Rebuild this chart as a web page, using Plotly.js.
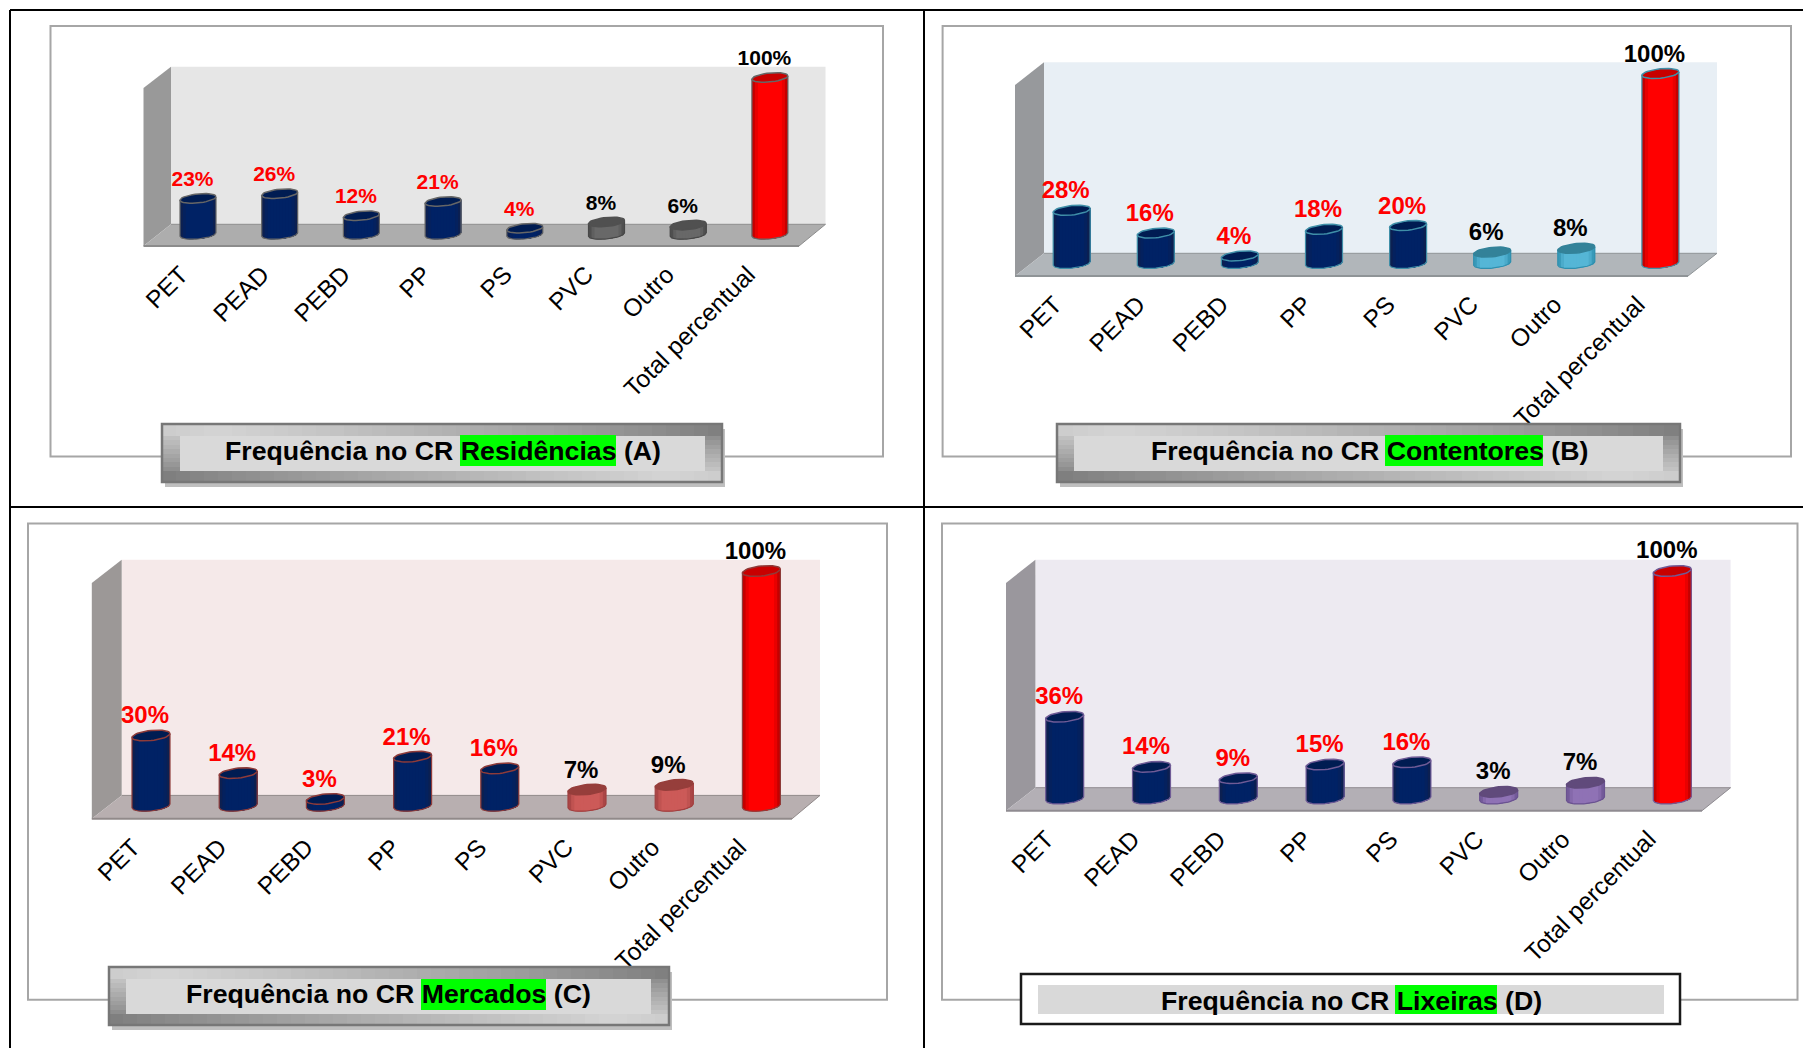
<!DOCTYPE html>
<html lang="pt">
<head>
<meta charset="utf-8">
<title>Frequência de polímeros nos centros de recolha</title>
<script src="https://cdn.plot.ly/plotly-3.0.1.min.js"></script>
<style>html,body{margin:0;padding:0;background:#fff}#grafico{width:1803px;height:1048px}</style>
</head>
<body>
<div id="grafico"></div>
<script>
// Percentual de cada polímero por tipo de centro de recolha
const categorias = ['PET', 'PEAD', 'PEBD', 'PP', 'PS', 'PVC', 'Outro', 'Total percentual'];
const residencias = [23, 26, 12, 21, 4, 8, 6, 100];
const contentores = [28, 16, 4, 18, 20, 6, 8, 100];
const mercados = [30, 14, 3, 21, 16, 7, 9, 100];
const lixeiras = [36, 14, 9, 15, 16, 3, 7, 100];

const LARG = 1803, ALT = 1048;
const FONTE = '"Liberation Sans", Arial, sans-serif';
const px = x => x / LARG;
const py = y => 1 - y / ALT;

// Geometria e paleta de cada painel, em pixels da página
const paineis = [
  { valores: residencias, nome: 'Residências', letra: '(A)', moldura: [50.5, 26, 883, 456.5],
    fundo: [171, 825.5, 66.7, 224.3], frente: [143.5, 799, 246], paredeTopo: 88,
    cx0: 198, passo: 81.7, larg: 36, base: 234.5, escala: 1.57, semi: 4.5, incl: 1.7,
    rotulo: 21, dxRot: -5.5, dyRot: 17.5, tick: 24.5, folga: 3.5, dxTick: -17, passoTick: 81,
    cores: { parede: '#999999', chao: '#adadad', borda: '#8c8c8c', fundo: '#e6e6e6', aro: '#666666',
      acentoBorda: '#474747', acentoCentro: '#686868', acentoTopo: '#505050' },
    legenda: { tipo: 'chanfro', ext: [162, 424, 722, 482], int: [180, 436, 705, 471], verde: [460, 435, 616, 466], cx: 442.5, cy: 451 } },
  { valores: contentores, nome: 'Contentores', letra: '(B)', moldura: [942.6, 26, 1791, 456.5],
    fundo: [1044, 1717, 62.3, 253.3], frente: [1015, 1688, 276], paredeTopo: 85,
    cx0: 1071.7, passo: 84.1, larg: 37, base: 263.5, escala: 1.9, semi: 4.7, incl: 1.8,
    rotulo: 24, dxRot: -6, dyRot: 18, tick: 24.5, folga: 3.5, dxTick: -17, passoTick: 83.3,
    cores: { parede: '#97999c', chao: '#b1b6ba', borda: '#8f9497', fundo: '#e8eff5', aro: '#3f8fa8',
      acentoBorda: '#2f8fae', acentoCentro: '#55b6d6', acentoTopo: '#338299' },
    legenda: { tipo: 'chanfro', ext: [1057, 424, 1680, 482], int: [1074, 436, 1663, 471], verde: [1385, 435, 1543, 466], cx: 1369, cy: 451 } },
  { valores: mercados, nome: 'Mercados', letra: '(C)', moldura: [28, 523.4, 887, 999.8],
    fundo: [121.7, 820, 559.8, 795.4], frente: [91.8, 792, 818.8], paredeTopo: 583,
    cx0: 151, passo: 87.2, larg: 38, base: 806, escala: 2.35, semi: 5, incl: 1.9,
    rotulo: 24, dxRot: -6, dyRot: 18, tick: 24.5, folga: 3.5, dxTick: -18, passoTick: 86.6,
    cores: { parede: '#9c9897', chao: '#b8afb0', borda: '#918a8a', fundo: '#f5e9e9', aro: '#8e3b39',
      acentoBorda: '#a04040', acentoCentro: '#cc5a58', acentoTopo: '#963e3b' },
    legenda: { tipo: 'chanfro', ext: [109, 967, 669, 1025], int: [126, 979, 651, 1014], verde: [421, 979, 546, 1010], cx: 388.7, cy: 994 } },
  { valores: lixeiras, nome: 'Lixeiras', letra: '(D)', moldura: [942, 523.4, 1797.5, 999.8],
    fundo: [1035.4, 1730.6, 559.8, 787.7], frente: [1006, 1702, 810.7], paredeTopo: 583,
    cx0: 1064.7, passo: 86.8, larg: 38, base: 798.7, escala: 2.277, semi: 5, incl: 1.9,
    rotulo: 24, dxRot: -5.5, dyRot: 18.5, tick: 24.5, folga: 3.5, dxTick: -18, passoTick: 86,
    cores: { parede: '#9a979d', chao: '#b3afb5', borda: '#8f8b91', fundo: '#edeaf1', aro: '#6f5b96',
      acentoBorda: '#6a5290', acentoCentro: '#8f72b5', acentoTopo: '#604a7b' },
    legenda: { tipo: 'simples', ext: [1021, 974, 1680, 1024], int: [1038, 985, 1664, 1014], verde: [1395, 985, 1497, 1014], cx: 1351, cy: 1001 } }
];

const hexRgb = h => [1, 3, 5].map(i => parseInt(h.slice(i, i + 2), 16));
const mistura = (a, b, t) => {
  const A = hexRgb(a), B = hexRgb(b);
  return 'rgb(' + A.map((v, i) => Math.round(v + (B[i] - v) * t)).join(',') + ')';
};

const caminho = pts => 'M' + pts.map(p => px(p[0]) + ' ' + py(p[1])).join('L') + 'Z';
const retangulo = (r, fill, camada, linha) => ({
  type: 'rect', xref: 'paper', yref: 'paper', layer: camada || 'below',
  x0: px(r[0]), x1: px(r[2]), y0: py(r[1]), y1: py(r[3]),
  fillcolor: fill, line: linha || { width: 0 }
});
const poligono = (pts, fill) => ({
  type: 'path', xref: 'paper', yref: 'paper', layer: 'below', path: caminho(pts),
  fillcolor: fill, line: { width: 0 }
});
const segmento = (x0, y0, x1, y1, cor, w) => ({
  type: 'line', xref: 'paper', yref: 'paper', layer: 'below',
  x0: px(x0), x1: px(x1), y0: py(y0), y1: py(y1), line: { color: cor, width: w }
});

const tracos = [];
const formas = [];
const notas = [];
const layout = {
  width: LARG, height: ALT, margin: { l: 0, r: 0, t: 0, b: 0 }, showlegend: false,
  paper_bgcolor: '#ffffff', plot_bgcolor: 'rgba(0,0,0,0)', hovermode: false,
  font: { family: FONTE, color: '#000000' }
};

// Retícula preta que separa os quatro painéis
formas.push(segmento(10, 10, LARG, 10, '#000000', 2));
formas.push(segmento(10, 10, 10, ALT, '#000000', 2));
formas.push(segmento(924, 10, 924, ALT, '#000000', 2));
formas.push(segmento(10, 507, LARG, 507, '#000000', 2));

// Moldura chanfrada: tom varia na diagonal, escuro nos cantos opostos e claro no meio
function tomChanfro(u) {
  const t = 1 - Math.abs(u - 0.5) * 2;
  return mistura('#6e6e6e', '#d4d4d4', Math.pow(t, 0.8));
}
function desenhaLegenda(leg) {
  const [x0, y0, x1, y1] = leg.ext;
  const [i0, j0, i1, j1] = leg.int;
  if (leg.tipo === 'chanfro') {
    formas.push(retangulo([x0 + 3, y0 + 5, x1 + 3, y1 + 5], '#bfbfbf', 'above'));
    const w = x1 - x0, h = y1 - y0;
    const u = (x, y) => (((x - x0) / w) + 1 - (y - y0) / h) / 2;
    const nx = 40;
    for (let k = 0; k < nx; k++) {
      const a = Math.round(x0 + w * k / nx), b = Math.round(x0 + w * (k + 1) / nx);
      formas.push(retangulo([a, y0, b, j0], tomChanfro(u((a + b) / 2, (y0 + j0) / 2)), 'above'));
      formas.push(retangulo([a, j1, b, y1], tomChanfro(u((a + b) / 2, (j1 + y1) / 2)), 'above'));
    }
    const ny = 8;
    for (let k = 0; k < ny; k++) {
      const a = Math.round(j0 + (j1 - j0) * k / ny), b = Math.round(j0 + (j1 - j0) * (k + 1) / ny);
      formas.push(retangulo([x0, a, i0, b], tomChanfro(u((x0 + i0) / 2, (a + b) / 2)), 'above'));
      formas.push(retangulo([i1, a, x1, b], tomChanfro(u((i1 + x1) / 2, (a + b) / 2)), 'above'));
    }
    formas.push(retangulo(leg.ext, 'rgba(0,0,0,0)', 'above', { color: '#777777', width: 2.5 }));
  } else {
    formas.push(retangulo(leg.ext, '#ffffff', 'above', { color: '#1a1a1a', width: 2.5 }));
  }
  formas.push(retangulo(leg.int, '#d9d9d9', 'above'));
  formas.push(retangulo(leg.verde, '#00ff00', 'above'));
}

const N_FAIXAS = 12;

paineis.forEach((p, idx) => {
  const n = idx === 0 ? '' : String(idx + 1);
  const eixoX = 'x' + n, eixoY = 'y' + n;
  const c = p.cores;

  // Moldura branca e cenário em perspectiva
  formas.push(retangulo(p.moldura, '#ffffff', 'below', { color: '#a6a6a6', width: 2 }));
  formas.push(retangulo([p.fundo[0], p.fundo[2], p.fundo[1], p.fundo[3]], c.fundo));
  formas.push(poligono([[p.frente[0], p.paredeTopo], [p.fundo[0], p.fundo[2]], [p.fundo[0], p.fundo[3]], [p.frente[0], p.frente[2]]], c.parede));
  formas.push(poligono([[p.fundo[0], p.fundo[3]], [p.fundo[1], p.fundo[3]], [p.frente[1], p.frente[2]], [p.frente[0], p.frente[2]]], c.chao));
  formas.push(segmento(p.fundo[0], p.fundo[3], p.fundo[1], p.fundo[3], c.borda, 1));
  formas.push(segmento(p.frente[0], p.frente[2], p.frente[1], p.frente[2], c.borda, 2));
  formas.push(segmento(p.frente[1], p.frente[2], p.fundo[1], p.fundo[3], c.borda, 1));

  // Eixos: a escala converte índice de categoria e percentual em posição na página
  const esq = p.frente[0], dir = p.fundo[1];
  const topo = p.moldura[1] + 2;
  layout['xaxis' + n] = {
    domain: [px(esq), px(dir)], anchor: eixoY, type: 'linear',
    range: [(esq - p.cx0) / p.passo, (dir - p.cx0) / p.passo],
    showgrid: false, zeroline: false, showline: false, fixedrange: true,
    tickmode: 'array', tickvals: categorias.map((_, i) => (i * p.passoTick + p.dxTick) / p.passo), ticktext: categorias,
    tickangle: -45, ticks: 'outside', ticklen: p.folga, tickcolor: 'rgba(0,0,0,0)',
    tickfont: { family: FONTE, size: p.tick, color: '#000000' }
  };
  layout['yaxis' + n] = {
    domain: [py(p.frente[2]), py(topo)], anchor: eixoX, type: 'linear',
    range: [-(p.frente[2] - p.base) / p.escala, (p.base - topo) / p.escala],
    visible: false, showgrid: false, zeroline: false, fixedrange: true
  };

  // Unidades de dados equivalentes às medidas do cilindro
  const a = (p.larg / 2) / p.passo;
  const b = p.semi / p.escala;
  const s = p.incl / p.escala;
  const ux = categorias.map((_, i) => i);
  const rampa = i => {
    if (i === categorias.length - 1) return { borda: '#b00000', centro: '#ff0000', topo: '#c80000' };
    if (i >= 5) return { borda: c.acentoBorda, centro: c.acentoCentro, topo: c.acentoTopo };
    return { borda: '#10204a', centro: '#002265', topo: '#001c52' };
  };

  // Barras com o valor exato, por baixo do corpo sombreado
  tracos.push({
    type: 'bar', xaxis: eixoX, yaxis: eixoY, x: ux, y: p.valores,
    width: (p.larg - 10) / p.passo, marker: { color: ux.map(i => rampa(i).centro), line: { width: 0 } },
    hoverinfo: 'skip'
  });

  p.valores.forEach((v, i) => {
    const r = rampa(i);
    const fundoArco = d => -b * Math.sqrt(Math.max(0, 1 - d * d)) + s * d;
    // Faixas sobrepostas da esquerda para a direita simulam o sombreado cilíndrico
    for (let k = 0; k < N_FAIXAS; k++) {
      const d0 = -1 + 2 * k / N_FAIXAS;
      const xs = [], ys = [];
      xs.push(i + d0 * a); ys.push(v + s * d0);
      xs.push(i + a); ys.push(v + s);
      for (let q = 0; q <= 16; q++) {
        const d = 1 - (1 - d0) * q / 16;
        xs.push(i + d * a); ys.push(fundoArco(d));
      }
      const t = (k + 0.5) / N_FAIXAS;
      const luz = Math.min(1, 1.9 * Math.sin(Math.PI * t));
      tracos.push({
        type: 'scatter', mode: 'lines', xaxis: eixoX, yaxis: eixoY, x: xs, y: ys, fill: 'toself',
        fillcolor: mistura(r.borda, r.centro, luz), line: { width: 0 }, hoverinfo: 'skip'
      });
    }
    // Contorno lateral e inferior
    const cx = [i - a, i - a], cy = [v - s, -s];
    for (let q = 0; q <= 24; q++) {
      const d = -1 + 2 * q / 24;
      cx.push(i + d * a); cy.push(fundoArco(d));
    }
    cx.push(i + a); cy.push(v + s);
    tracos.push({ type: 'scatter', mode: 'lines', xaxis: eixoX, yaxis: eixoY, x: cx, y: cy,
      line: { color: i >= 5 && i < 7 ? r.borda : c.aro, width: 1.2 }, hoverinfo: 'skip' });
    // Tampa elíptica inclinada
    const tx = [], ty = [];
    for (let q = 0; q <= 40; q++) {
      const g = 2 * Math.PI * q / 40, d = Math.cos(g);
      tx.push(i + d * a); ty.push(v + b * Math.sin(g) + s * d);
    }
    tracos.push({ type: 'scatter', mode: 'lines', xaxis: eixoX, yaxis: eixoY, x: tx, y: ty, fill: 'toself',
      fillcolor: r.topo, line: { color: i >= 5 && i < 7 ? r.topo : c.aro, width: 1.5 }, hoverinfo: 'skip' });
  });

  // Rótulos de percentual acima de cada cilindro
  tracos.push({
    type: 'scatter', mode: 'text', xaxis: eixoX, yaxis: eixoY, cliponaxis: false,
    x: ux.map(i => i + p.dxRot / p.passo),
    y: p.valores.map(v => v + p.dyRot / p.escala),
    text: p.valores.map(v => v + '%'), textposition: 'middle center',
    textfont: { family: FONTE, size: p.rotulo, weight: 700, color: ux.map(i => i < 5 ? '#ff0000' : '#000000') },
    hoverinfo: 'skip'
  });

  desenhaLegenda(p.legenda);
  notas.push({
    xref: 'paper', yref: 'paper', x: px(p.legenda.cx), y: py(p.legenda.cy), xanchor: 'center', yanchor: 'middle',
    showarrow: false, text: '<b>Frequência no CR ' + p.nome + ' ' + p.letra + '</b>',
    font: { family: FONTE, size: 26.7, color: '#000000' }
  });
});

layout.shapes = formas;
layout.annotations = notas;
Plotly.newPlot('grafico', tracos, layout, { displayModeBar: false, staticPlot: true });
</script>
</body>
</html>
